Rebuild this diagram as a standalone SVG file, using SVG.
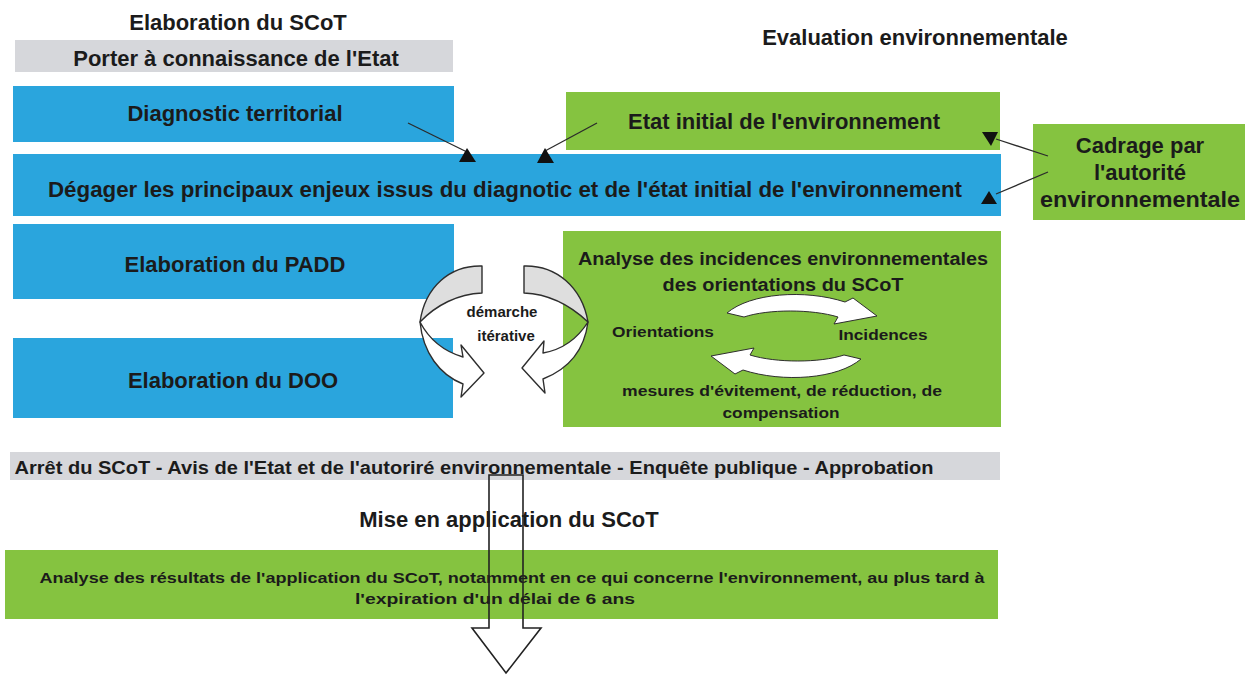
<svg xmlns="http://www.w3.org/2000/svg" width="1251" height="675" viewBox="0 0 1251 675">
  <style>
    .t { font-family: "Liberation Sans", Arial, sans-serif; font-weight: bold; fill: #1b1b1b; text-anchor: middle; }
    .h { font-size: 22px; }
    .m { font-size: 18px; }
    .s { font-size: 15px; }
    .blue { fill: #2aa5dd; }
    .green { fill: #85c340; }
    .grey { fill: #d6d7db; }
    .link { stroke: #2b2b2b; stroke-width: 1.3; fill: none; }
    .tip { fill: #111; }
    .ribbon { stroke: #2e2e2e; stroke-width: 1.4; stroke-linejoin: round; }
    .loop { fill: #fff; stroke: #2e2e2e; stroke-width: 1; stroke-linejoin: round; }
  </style>

  <rect width="1251" height="675" fill="#ffffff"/>

  <!-- column headings -->
  <g id="title-scot">
    <text class="t h" x="238" y="30">Elaboration du SCoT</text>
  </g>
  <g id="title-eval">
    <text class="t h" x="915" y="45">Evaluation environnementale</text>
  </g>

  <!-- SCoT side -->
  <g id="porter-a-connaissance">
    <rect class="grey" x="15" y="40" width="438" height="32"/>
    <text class="t h" x="236" y="66">Porter à connaissance de l'Etat</text>
  </g>
  <g id="diagnostic">
    <rect class="blue" x="13" y="86" width="441" height="56"/>
    <text class="t h" x="235" y="121">Diagnostic territorial</text>
  </g>
  <g id="etat-initial">
    <rect class="green" x="566" y="92" width="434" height="58"/>
    <text class="t h" x="784" y="129">Etat initial de l'environnement</text>
  </g>
  <g id="enjeux">
    <rect class="blue" x="13" y="154" width="988" height="62"/>
    <text class="t h" x="505" y="197" textLength="914" lengthAdjust="spacingAndGlyphs">Dégager les principaux enjeux issus du diagnotic et de l'état initial de l'environnement</text>
  </g>
  <g id="cadrage">
    <rect class="green" x="1033" y="124" width="212" height="96"/>
    <text class="t h" x="1140" y="153">Cadrage par</text>
    <text class="t h" x="1140" y="180">l'autorité</text>
    <text class="t h" x="1140" y="207" textLength="200" lengthAdjust="spacingAndGlyphs">environnementale</text>
  </g>
  <g id="padd">
    <rect class="blue" x="13" y="224" width="441" height="75"/>
    <text class="t h" x="235" y="272">Elaboration du PADD</text>
  </g>
  <g id="doo">
    <rect class="blue" x="13" y="338" width="440" height="80"/>
    <text class="t h" x="233" y="388">Elaboration du DOO</text>
  </g>

  <!-- environmental impact analysis -->
  <g id="analyse-incidences">
    <rect class="green" x="563" y="231" width="438" height="196"/>
    <text class="t m" x="783" y="265" textLength="410" lengthAdjust="spacingAndGlyphs">Analyse des incidences environnementales</text>
    <text class="t m" x="783" y="291" textLength="241" lengthAdjust="spacingAndGlyphs">des orientations du SCoT</text>
    <text class="t s" x="663" y="337" textLength="102" lengthAdjust="spacingAndGlyphs">Orientations</text>
    <text class="t s" x="883" y="340" textLength="89" lengthAdjust="spacingAndGlyphs">Incidences</text>
    <text class="t s" x="782" y="396" textLength="320" lengthAdjust="spacingAndGlyphs">mesures d'évitement, de réduction, de</text>
    <text class="t s" x="781" y="418" textLength="117" lengthAdjust="spacingAndGlyphs">compensation</text>
    <!-- cycle between orientations and impacts -->
    <path id="cycle-top" class="loop" d="M727,313 C750,293 805,289 845,302 L853,298 L877,316 L834,324 L838,317 C812,309 768,309 744,317 Z"/>
    <path id="cycle-bottom" class="loop" transform="rotate(180 794 336)" d="M727,313 C750,293 805,289 845,302 L853,298 L877,316 L834,324 L838,317 C812,309 768,309 744,317 Z"/>
  </g>

  <!-- iterative loop between PADD/DOO and the analysis -->
  <g id="demarche-iterative">
    <g id="loop-left">
      <path class="ribbon" fill="#dedede" d="M482,266 C450,265 425,287 420,322 C436,305 458,294 482,293 Z"/>
      <path class="ribbon" fill="#ffffff" d="M420,322 C423,353 440,375 463,384 L461,397 L484,373 L461,345 L463,357 C446,352 430,341 420,322 Z"/>
    </g>
    <g id="loop-right" transform="translate(1006,0) scale(-1,1)">
      <path class="ribbon" fill="#dedede" d="M482,266 C450,265 424,287 418,322 C436,305 458,294 482,293 Z"/>
      <path class="ribbon" fill="#ffffff" d="M418,322 C422,353 440,370 463,379 L461,393 L484,368 L462,341 L463,353 C446,350 430,341 418,322 Z"/>
    </g>
    <text class="t s" x="502" y="317">démarche</text>
    <text class="t s" x="506" y="341">itérative</text>
  </g>

  <!-- approval and follow-up -->
  <g id="arret">
    <rect class="grey" x="10" y="452" width="990" height="28"/>
    <text class="t m" x="474" y="474" textLength="919" lengthAdjust="spacingAndGlyphs">Arrêt du SCoT - Avis de l'Etat et de l'autoriré environnementale - Enquête publique - Approbation</text>
  </g>
  <g id="mise-en-application">
    <text class="t h" x="509" y="527">Mise en application du SCoT</text>
  </g>
  <g id="analyse-resultats">
    <rect class="green" x="5" y="550" width="993" height="69"/>
    <text class="t s" x="512" y="583" textLength="945" lengthAdjust="spacingAndGlyphs">Analyse des résultats de l'application du SCoT, notamment en ce qui concerne l'environnement, au plus tard à</text>
    <text class="t s" x="495" y="604" textLength="280" lengthAdjust="spacingAndGlyphs">l'expiration d'un délai de 6 ans</text>
  </g>

  <!-- connectors -->
  <g id="connectors">
    <line class="link" x1="408" y1="123" x2="467" y2="152"/>
    <polygon class="tip" points="467,148 476,162 459,162"/>
    <line class="link" x1="597" y1="123" x2="545" y2="151"/>
    <polygon class="tip" points="545,148 554,163 537,163"/>
    <line class="link" x1="1048" y1="156" x2="996" y2="139"/>
    <polygon class="tip" points="982,132 998,132 991,146"/>
    <line class="link" x1="1048" y1="172" x2="996" y2="194"/>
    <polygon class="tip" points="989,191 997,204 981,204"/>
    <!-- hollow block arrow down through the follow-up stage -->
    <path fill="none" stroke="#222" stroke-width="1.6" stroke-linejoin="miter" d="M489,475 L523,475 L523,628 L541,628 L506,673 L472,628 L489,628 Z"/>
  </g>
</svg>
